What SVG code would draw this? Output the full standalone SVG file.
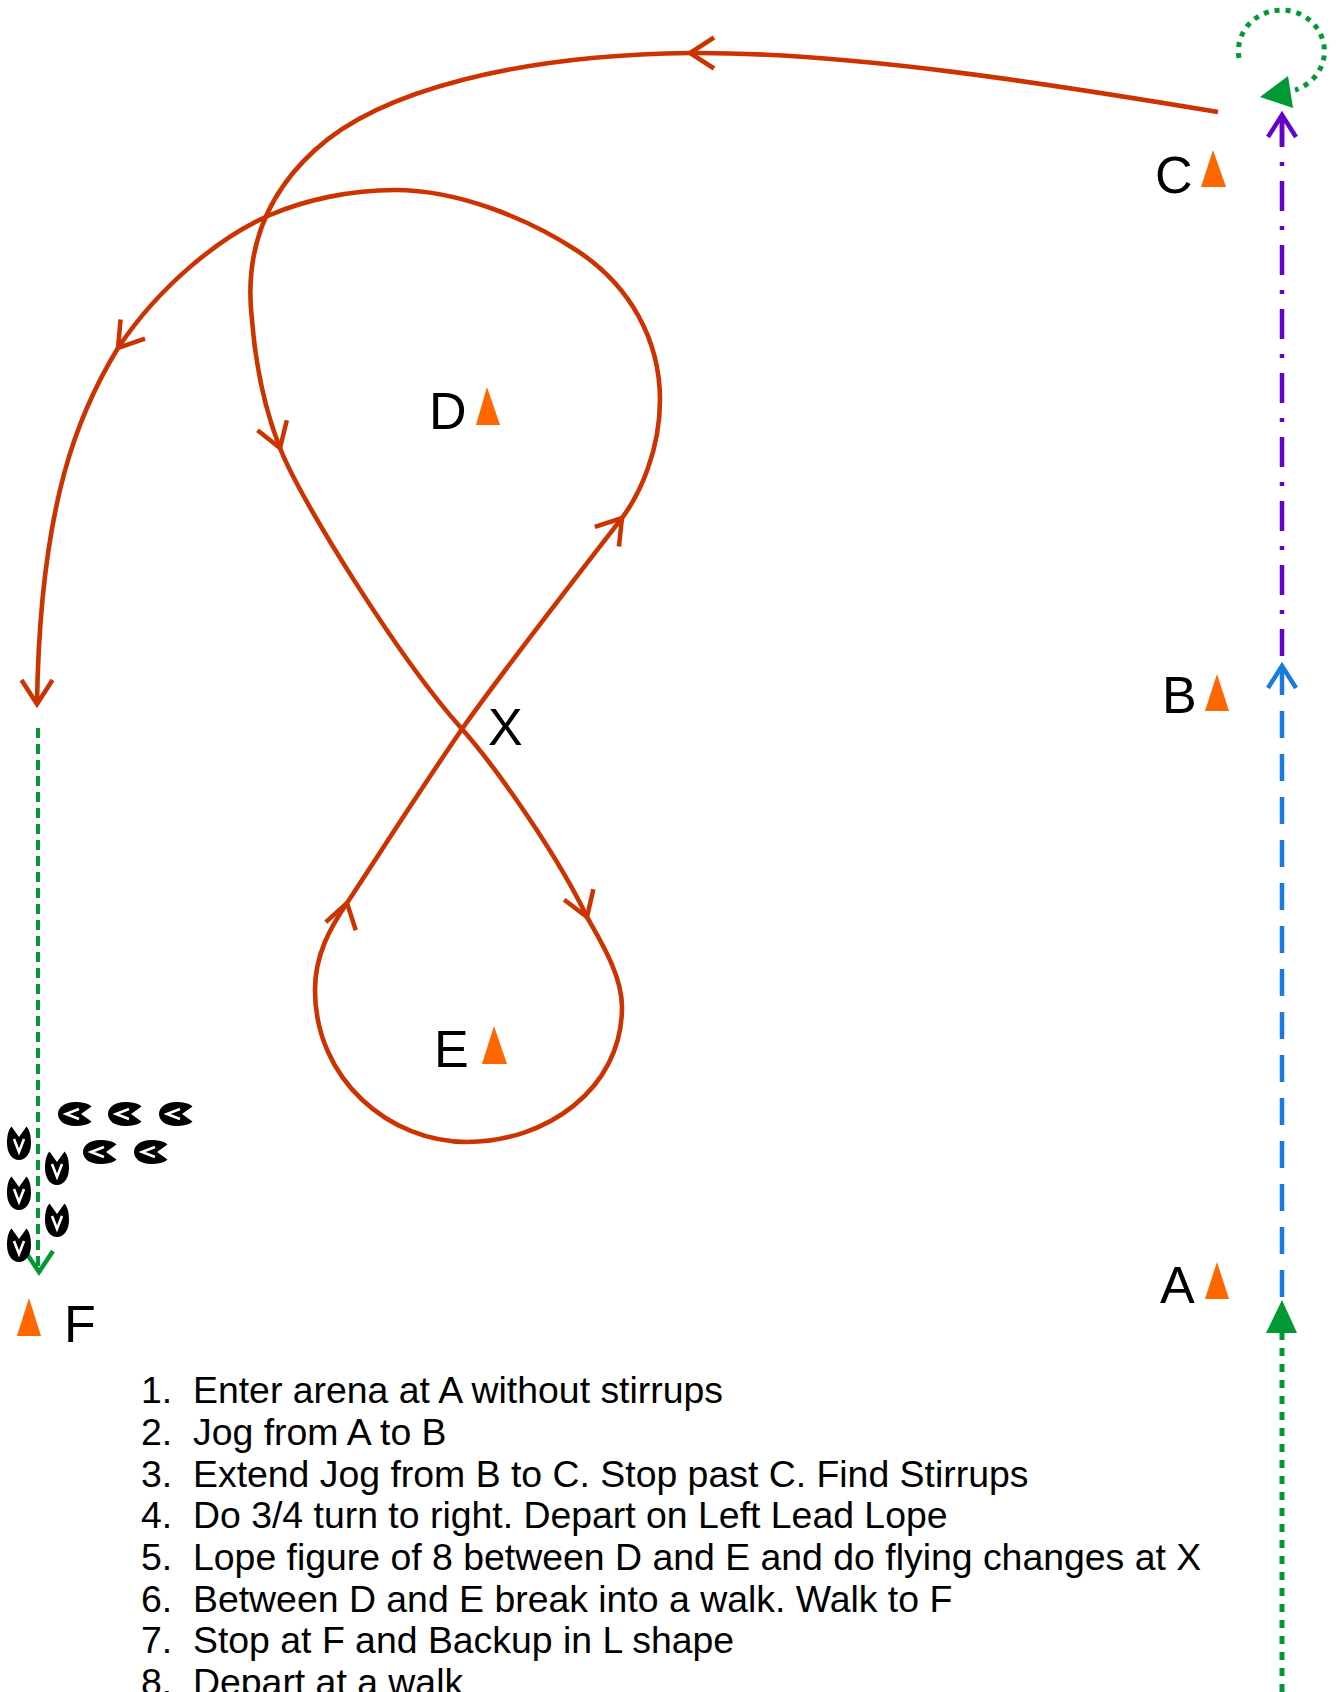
<svg xmlns="http://www.w3.org/2000/svg" width="1336" height="1692" viewBox="0 0 1336 1692">
<style>
.red{fill:none;stroke:#CC3300;stroke-width:4.6;stroke-linejoin:round}
.chev{fill:none;stroke:#CC3300;stroke-width:4.5;stroke-linejoin:miter}
.lbl{font-family:"Liberation Sans",Arial,sans-serif;font-size:52px;fill:#000}
.cone{fill:#FF6600}
.list{font-family:"Liberation Sans",Arial,sans-serif;font-size:37.4px;fill:#000}
.hoof{fill:#000}
.hoofin{fill:none;stroke:#fff;stroke-width:2.6;stroke-linejoin:miter}
</style>
<defs>
<path id="chev" class="chev" d="M-24,-15.5 L0,0 L-24,15.5"/>
<g id="hoof">
<path class="hoof" d="M0,-6 L-7.5,-16.5 C-11,-13 -12,-6 -12,0 C-12,10 -7,17 0,17 C7,17 12,10 12,0 C12,-6 11,-13 7.5,-16.5 Z"/>
<path class="hoofin" d="M-5,-4 L0,9 L5,-4"/>
</g>
</defs>
<rect width="1336" height="1692" fill="#fff"/>

<g id="connectors">
<path id="lope-path" class="red" d="M1218,112 C1050,84 850,52 690,53 C520,55 380,90 315,150 C260,200 245,260 252,320 C256,370 265,410 280,448 C300,500 400,660 462,729 C500,772 560,860 587,917 C600,940 622,975 622,1007 C622,1090 545,1142 467,1142 C390,1142 315,1080 315,990 C315,955 330,928 347,903 C380,853 420,790 462,729 C500,675 570,585 622,518 C640,494 660,450 660,400 C660,340 630,285 576,250 C530,220 460,190 395,190 C350,190 305,200 270,215 C220,237 160,285 118,348 C80,410 40,500 37,704"/>
<use href="#chev" transform="translate(690,53) rotate(180)"/>
<use href="#chev" transform="translate(280,448) rotate(71)"/>
<use href="#chev" transform="translate(587,917) rotate(70)"/>
<use href="#chev" transform="translate(347,903) rotate(-75)"/>
<use href="#chev" transform="translate(622,518) rotate(-51)"/>
<use href="#chev" transform="translate(118,348) rotate(128)"/>
<use href="#chev" transform="translate(37,704) rotate(90)"/>

<!-- walk in from bottom to A -->
<path d="M1282,1692 L1282,1332" fill="none" stroke="#009933" stroke-width="5" stroke-dasharray="8 8"/>
<path d="M1282,1300 L1297,1333 L1266,1333 Z" fill="#009933"/>
<!-- jog A to B -->
<path d="M1282,1297 L1282,668" fill="none" stroke="#1A7AE2" stroke-width="4.5" stroke-dasharray="27 16"/>
<path d="M1268,688 L1282,666 L1296,688" fill="none" stroke="#1A7AE2" stroke-width="4.5"/>
<!-- extended jog B to C -->
<path d="M1282,117 L1282,656" fill="none" stroke="#6600CC" stroke-width="4.5" stroke-dasharray="30 15 4 15"/>
<path d="M1282,115 L1282,147" fill="none" stroke="#6600CC" stroke-width="4.5"/>
<path d="M1268,137 L1282,115 L1296,137" fill="none" stroke="#6600CC" stroke-width="4.5"/>
<!-- 3/4 turn -->
<path d="M1239,58 A43,41 0 1 1 1295,90" fill="none" stroke="#009933" stroke-width="5" stroke-dasharray="5 6"/>
<path d="M1260,97 L1288,76 L1293,108 Z" fill="#009933"/>
<!-- walk to F -->
<path d="M38,728 L38,1268" fill="none" stroke="#009933" stroke-width="4" stroke-dasharray="10 6"/>
<path d="M25,1251 L39,1272 L53,1251" fill="none" stroke="#009933" stroke-width="4.5"/>
</g>

<g id="backup-hoofprints">
<use href="#hoof" transform="translate(75,1114) rotate(90)"/>
<use href="#hoof" transform="translate(125,1114) rotate(90)"/>
<use href="#hoof" transform="translate(176,1114) rotate(90)"/>
<use href="#hoof" transform="translate(100,1152) rotate(90)"/>
<use href="#hoof" transform="translate(151,1152) rotate(90)"/>
<use href="#hoof" transform="translate(19,1143)"/>
<use href="#hoof" transform="translate(19,1193)"/>
<use href="#hoof" transform="translate(19,1245)"/>
<use href="#hoof" transform="translate(57,1168)"/>
<use href="#hoof" transform="translate(57,1220)"/>
</g>

<g id="marker-C"><text class="lbl" x="1155" y="193">C</text><path class="cone" d="M1213,150 L1226,187 L1201,187 Z"/></g>
<g id="marker-B"><text class="lbl" x="1162" y="713">B</text><path class="cone" d="M1217,674 L1229,711 L1205,711 Z"/></g>
<g id="marker-A"><text class="lbl" x="1160" y="1303">A</text><path class="cone" d="M1217,1262 L1229,1299 L1205,1299 Z"/></g>
<g id="marker-D"><text class="lbl" x="429" y="429">D</text><path class="cone" d="M487,387 L500,425 L476,425 Z"/></g>
<g id="marker-E"><text class="lbl" x="434" y="1067">E</text><path class="cone" d="M494,1026 L507,1064 L482,1064 Z"/></g>
<g id="marker-X"><text class="lbl" x="488" y="745">X</text></g>
<g id="marker-F"><text class="lbl" x="64" y="1342">F</text><path class="cone" d="M29,1298 L41,1336 L17,1336 Z"/></g>

<g id="instructions" class="list">
<text x="141" y="1403">1.</text><text x="193" y="1403">Enter arena at A without stirrups</text>
<text x="141" y="1445">2.</text><text x="193" y="1445">Jog from A to B</text>
<text x="141" y="1487">3.</text><text x="193" y="1487">Extend Jog from B to C. Stop past C. Find Stirrups</text>
<text x="141" y="1528">4.</text><text x="193" y="1528">Do 3/4 turn to right. Depart on Left Lead Lope</text>
<text x="141" y="1570">5.</text><text x="193" y="1570">Lope figure of 8 between D and E and do flying changes at X</text>
<text x="141" y="1612">6.</text><text x="193" y="1612">Between D and E break into a walk. Walk to F</text>
<text x="141" y="1653">7.</text><text x="193" y="1653">Stop at F and Backup in L shape</text>
<text x="141" y="1695">8.</text><text x="193" y="1695">Depart at a walk</text>
</g>
</svg>
